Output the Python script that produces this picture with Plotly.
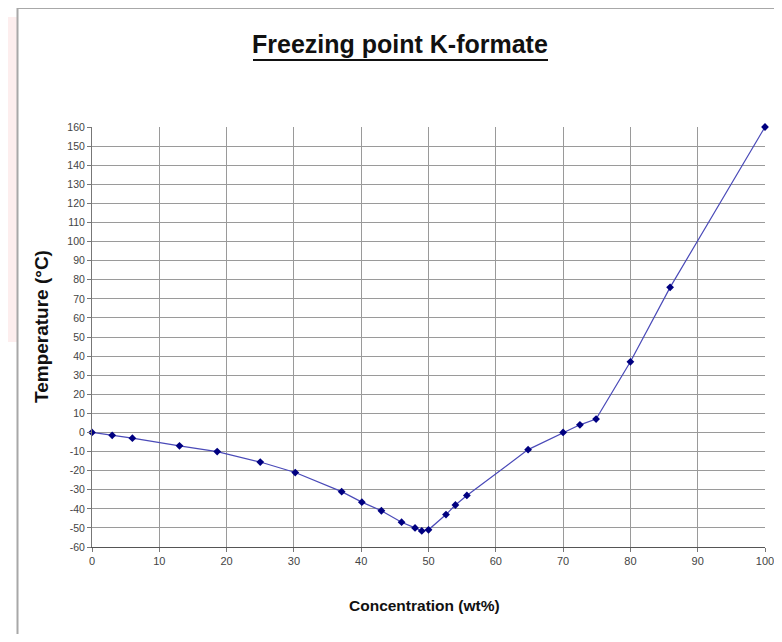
import plotly.graph_objects as go

# Data
concentration = [0, 3, 6, 13, 18.6, 25, 30.2, 37.1, 40.1, 43, 46, 48, 49, 50,
                 52.6, 54, 55.7, 64.8, 70, 72.5, 74.9, 80, 85.9, 100]
temperature = [0, -1.5, -3, -7, -10, -15.5, -21, -31, -36.5, -41, -47, -50, -51.6, -51,
               -43, -38, -33, -9, 0, 4, 7, 37, 76, 160]

x_ticks = list(range(0, 101, 10))
y_ticks = list(range(-60, 161, 10))

title_text = "Freezing point K-formate"
x_title = "Concentration (wt%)"
y_title = "Temperature (°C)"

OFF = 8  # page body margin
W, H = 782 - 2 * OFF, 642 - 2 * OFF
L, R, T, B = 92 - OFF, 765 - OFF, 127 - OFF, 547 - OFF
pw, ph = R - L, B - T


def px(xp):
    return (xp - OFF - L) / pw


def py(yp):
    return (B - (yp - OFF)) / ph


narrow = "Liberation Sans Narrow, Arial Narrow, Liberation Sans, Arial"

fig = go.Figure()
fig.add_trace(go.Scatter(
    x=concentration, y=temperature, mode="lines+markers",
    line=dict(color="#4a4ab8", width=1.2),
    marker=dict(symbol="diamond", size=6, color="#000080"),
    cliponaxis=False, showlegend=False,
))

grid = "#9a9a9a"
fig.update_xaxes(range=[0, 100], tickvals=x_ticks, ticktext=[str(v) for v in x_ticks],
                 showgrid=True, gridcolor=grid, gridwidth=1, ticklabeloverflow="allow",
                 automargin=False,
                 showline=True, linecolor="#555", linewidth=1, mirror=False,
                 ticks="outside", ticklen=4, tickcolor="#777", zeroline=False,
                 tickfont=dict(family=narrow, size=11, color="#444"))
fig.update_yaxes(range=[-60, 160], tickvals=y_ticks, ticktext=[str(v) for v in y_ticks],
                 showgrid=True, gridcolor=grid, gridwidth=1, ticklabeloverflow="allow",
                 automargin=False,
                 showline=True, linecolor="#777", linewidth=1,
                 ticks="outside", ticklen=4, tickcolor="#777", zeroline=False,
                 tickfont=dict(family=narrow, size=10.5, color="#444"))

shapes = [
    # pink area at far left
    dict(type="rect", xref="paper", yref="paper", x0=px(8), x1=px(17), y0=py(342), y1=py(17),
         fillcolor="#fdeeee", line=dict(width=0), layer="below"),
    # chart frame
    dict(type="line", xref="paper", yref="paper", x0=px(17.5), x1=px(17.5), y0=py(7.5), y1=py(640),
         line=dict(color="#a8a8a8", width=2)),
    dict(type="line", xref="paper", yref="paper", x0=px(17.5), x1=px(780), y0=py(8), y1=py(8),
         line=dict(color="#a8a8a8", width=2)),
    # title underline
    dict(type="line", xref="paper", yref="paper", x0=px(253), x1=px(548), y0=py(60), y1=py(60),
         line=dict(color="#111", width=2)),
]

annotations = [
    dict(text="<b>" + title_text + "</b>", xref="paper", yref="paper", x=px(400), y=py(44),
         xanchor="center", yanchor="middle", showarrow=False,
         font=dict(family=narrow, size=25, color="#111")),
    dict(text="<b>" + x_title + "</b>", xref="paper", yref="paper", x=px(424), y=py(605),
         xanchor="center", yanchor="middle", showarrow=False,
         font=dict(family=narrow, size=15.5, color="#111")),
    dict(text="<b>" + y_title + "</b>", xref="paper", yref="paper", x=px(41), y=py(327),
         xanchor="center", yanchor="middle", showarrow=False, textangle=-90,
         font=dict(family="Liberation Sans, Arial", size=19, color="#111")),
]

fig.update_layout(
    width=W, height=H,
    margin=dict(l=L, r=W - R, t=T, b=H - B),
    paper_bgcolor="white", plot_bgcolor="white",
    shapes=shapes, annotations=annotations,
)

fig.write_html("out.html")
